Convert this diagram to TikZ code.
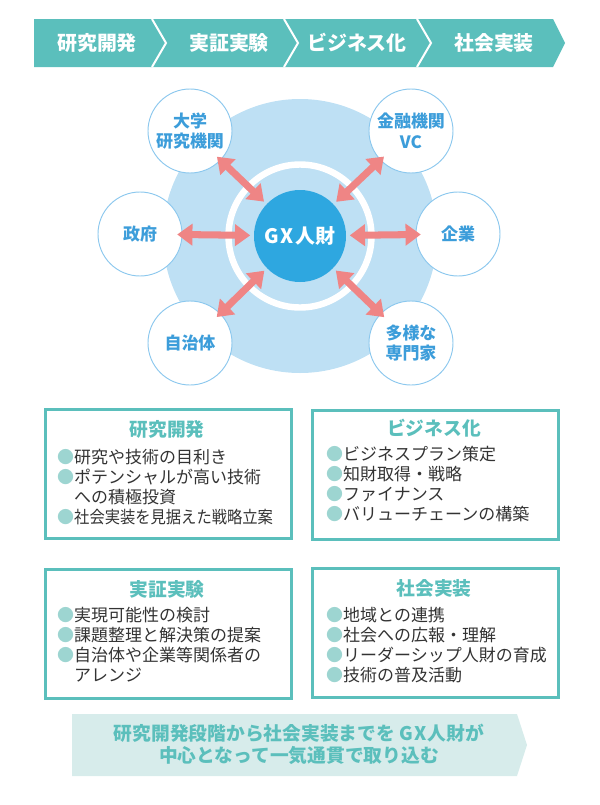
\documentclass[tikz,border=0pt]{standalone}
\usepackage{fontspec}
\setmainfont{Noto Sans CJK JP}
\usepackage{xcolor}
\usepackage{graphicx}
\usetikzlibrary{arrows.meta}

\definecolor{bandteal}{HTML}{5BBFBC}
\definecolor{dotteal}{HTML}{9DD5D1}
\definecolor{paleteal}{HTML}{D7ECEB}
\definecolor{skyblue}{HTML}{BEE0F4}
\definecolor{coreblue}{HTML}{2EA7E0}
\definecolor{rimblue}{HTML}{8CC8EE}
\definecolor{labelblue}{HTML}{3C9DDA}
\definecolor{linkpink}{HTML}{EF8585}
\definecolor{inkgray}{HTML}{333333}
\newcommand\itemdot{\textcolor{dotteal}{●}}

\begin{document}
\begin{tikzpicture}[x=0.03cm, y=-0.03cm,
    stage/.style={text=white, font=\fontsize{17}{20}\selectfont\bfseries},
    partner/.style={circle, draw=rimblue, line width=0.8pt, fill=white,
      minimum size=2.52cm, inner sep=0pt, align=center, text=labelblue,
      font=\fontsize{14.5}{17.5}\selectfont\bfseries},
    link/.style={draw=linkpink, line width=6pt,
      {Triangle[width=18pt,length=13pt]}-{Triangle[width=18pt,length=13pt]},
      shorten <=3pt, shorten >=-4.5pt},
    box/.style={draw=bandteal, line width=2.2pt, minimum width=7.38cm,
      minimum height=3.87cm, anchor=north west},
    boxhead/.style={text=bandteal, font=\fontsize{16}{19}\selectfont\bfseries},
    items/.style={anchor=north west, inner sep=0pt, align=left, text=inkgray,
      font=\fontsize{14.5}{17.1}\selectfont},
  ]
  \useasboundingbox (0,0) rectangle (600,805);

  % process band
  \fill[bandteal] (34,19) -- (553,19) -- (565,43) -- (553,67) -- (34,67) -- cycle;
  \foreach \sx in {152,284,417}
    \draw[white, line width=1.7pt] (\sx,19) -- (\sx+14,43) -- (\sx,67);
  \node[stage] (s1) at (97,43) {研究開発};
  \node[stage] (s2) at (229,43) {実証実験};
  \node[stage] (s3) at (357,43) {ビジネス化};
  \node[stage] (s4) at (494,43) {社会実装};

  % circle diagram
  \fill[skyblue] (300,236) circle[radius=137];
  \draw[white, line width=5.5pt] (300,236) circle[radius=71.5];
  \node[circle, fill=coreblue, minimum size=2.76cm, text=white,
    font=\fontsize{17}{20}\selectfont\bfseries] (gx) at (300,236)
    {G\kern1.5pt X\kern2pt 人財};

  \node[partner] (univ) at (190,131) {大学\\研究機関};
  \node[partner] (fin) at (411,131) {金融機関\\VC};
  \node[partner] (gov) at (140,234) {政府};
  \node[partner] (corp) at (458,234) {企業};
  \node[partner] (local) at (190,343) {自治体};
  \node[partner] (expert) at (411,343) {多様な\\専門家};

  \foreach \p in {univ,fin,gov,corp,local,expert}
    \draw[link] (gx) -- (\p);

  % four boxes
  \node[box] (b1) at (44,408) {};
  \node[boxhead] at (167,429) {研究開発};
  \node[items] at (57,449) {\itemdot 研究や技術の目利き\\
    \itemdot ポテンシャルが高い技術\\
    \phantom{\itemdot}への積極投資\\
    \itemdot \scalebox{0.9}[1]{社会実装を見据えた戦略立案}};

  \node[box] (b2) at (311,409) {};
  \node[boxhead] at (434,428) {ビジネス化};
  \node[items] at (326,446) {\itemdot ビジネスプラン策定\\
    \itemdot 知財取得・戦略\\
    \itemdot ファイナンス\\
    \itemdot バリューチェーンの構築};

  \node[box] (b3) at (44,568) {};
  \node[boxhead] at (167,589) {実証実験};
  \node[items] at (57,607) {\itemdot 実現可能性の検討\\
    \itemdot 課題整理と解決策の提案\\
    \itemdot 自治体や企業等関係者の\\
    \phantom{\itemdot}アレンジ};

  \node[box] (b4) at (311,567) {};
  \node[boxhead] at (434,588) {社会実装};
  \node[items] at (326,607) {\itemdot 地域との連携\\
    \itemdot 社会への広報・理解\\
    \itemdot リーダーシップ人財の育成\\
    \itemdot 技術の普及活動};

  % summary banner
  \fill[paleteal] (72,714) -- (517,714) -- (527,745) -- (517,776) -- (72,776) -- cycle;
  \node[text=bandteal, align=center, font=\fontsize{16}{18.8}\selectfont\bfseries]
    (summary) at (299,744) {研究開発段階から社会実装までを G\kern1pt X\kern1pt 人財が\\
    中心となって一気通貫で取り込む};
\end{tikzpicture}
\end{document}
